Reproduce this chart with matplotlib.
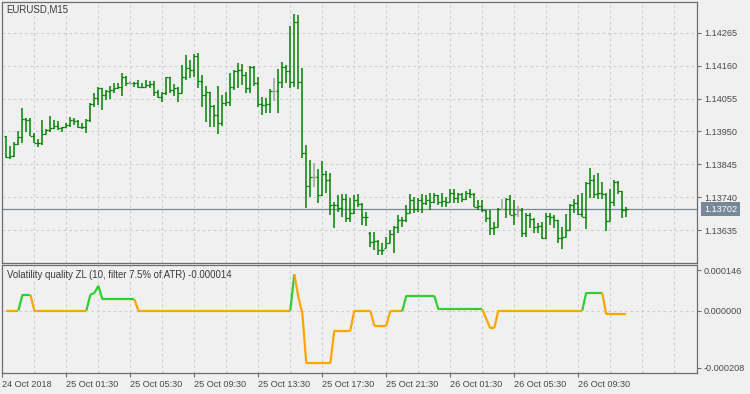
import numpy as np
import matplotlib.pyplot as plt
from matplotlib.collections import LineCollection
from matplotlib.transforms import blended_transform_factory

plt.rcParams['font.family'] = ['Liberation Sans', 'DejaVu Sans']

symbol = "EURUSD,M15"
indicator_name = "Volatility quality ZL (10, filter 7.5% of ATR) -0.000014"

# EURUSD M15 bars
opens = [1.13935, 1.13869, 1.13872, 1.13909, 1.13933, 1.13990, 1.13988, 1.13936, 1.13912, 1.13913,
         1.13942, 1.13955, 1.13960, 1.13967, 1.13961, 1.13964, 1.13970, 1.13986, 1.13983, 1.13965,
         1.13963, 1.13986, 1.14037, 1.14056, 1.14088, 1.14066, 1.14080, 1.14082, 1.14088, 1.14091,
         1.14125, 1.14105, 1.14105, 1.14104, 1.14091, 1.14093, 1.14098, 1.14101, 1.14077, 1.14059,
         1.14074, 1.14123, 1.14082, 1.14088, 1.14072, 1.14125, 1.14151, 1.14146, 1.14191, 1.14112,
         1.14066, 1.14076, 1.14031, 1.14002, 1.13978, 1.14042, 1.14045, 1.14093, 1.14144, 1.14146,
         1.14130, 1.14088, 1.14155, 1.14105, 1.14037, 1.14034, 1.14037, 1.14080, 1.14080, 1.14108,
         1.14156, 1.14144, 1.14109, 1.14298, 1.14109, 1.13882, 1.13776, 1.13805, 1.13805, 1.13747,
         1.13814, 1.13795, 1.13715, 1.13714, 1.13706, 1.13734, 1.13674, 1.13689, 1.13731, 1.13718,
         1.13676, 1.13626, 1.13598, 1.13601, 1.13572, 1.13578, 1.13593, 1.13623, 1.13646, 1.13667,
         1.13666, 1.13689, 1.13731, 1.13701, 1.13731, 1.13722, 1.13731, 1.13726, 1.13747, 1.13726,
         1.13729, 1.13726, 1.13754, 1.13737, 1.13750, 1.13733, 1.13752, 1.13750, 1.13710, 1.13712,
         1.13699, 1.13673, 1.13641, 1.13646, 1.13702, 1.13702, 1.13733, 1.13683, 1.13699, 1.13699,
         1.13627, 1.13683, 1.13670, 1.13646, 1.13648, 1.13609, 1.13680, 1.13678, 1.13667, 1.13609,
         1.13614, 1.13635, 1.13715, 1.13720, 1.13686, 1.13678, 1.13786, 1.13795, 1.13750, 1.13752,
         1.13750, 1.13665, 1.13726, 1.13790, 1.13761, 1.13699]
highs = [1.13935, 1.13903, 1.13917, 1.13951, 1.14024, 1.13992, 1.13992, 1.13944, 1.13925, 1.13986,
         1.13957, 1.13999, 1.13986, 1.13983, 1.13965, 1.13978, 1.13997, 1.13992, 1.13985, 1.13976,
         1.13989, 1.14042, 1.14074, 1.14091, 1.14090, 1.14082, 1.14095, 1.14105, 1.14105, 1.14135,
         1.14127, 1.14111, 1.14109, 1.14114, 1.14105, 1.14114, 1.14112, 1.14112, 1.14082, 1.14077,
         1.14125, 1.14123, 1.14101, 1.14091, 1.14162, 1.14194, 1.14178, 1.14197, 1.14201, 1.14130,
         1.14095, 1.14077, 1.14034, 1.14095, 1.14066, 1.14076, 1.14135, 1.14146, 1.14167, 1.14165,
         1.14141, 1.14159, 1.14159, 1.14123, 1.14059, 1.14056, 1.14084, 1.14120, 1.14148, 1.14172,
         1.14162, 1.14286, 1.14325, 1.14322, 1.14151, 1.13907, 1.13859, 1.13848, 1.13829, 1.13857,
         1.13825, 1.13816, 1.13726, 1.13747, 1.13750, 1.13750, 1.13737, 1.13747, 1.13750, 1.13721,
         1.13694, 1.13630, 1.13630, 1.13603, 1.13593, 1.13612, 1.13635, 1.13649, 1.13683, 1.13678,
         1.13715, 1.13750, 1.13740, 1.13737, 1.13750, 1.13747, 1.13752, 1.13752, 1.13747, 1.13752,
         1.13742, 1.13765, 1.13765, 1.13754, 1.13752, 1.13761, 1.13765, 1.13752, 1.13731, 1.13731,
         1.13699, 1.13699, 1.13662, 1.13705, 1.13733, 1.13737, 1.13747, 1.13731, 1.13712, 1.13705,
         1.13689, 1.13691, 1.13673, 1.13659, 1.13662, 1.13689, 1.13691, 1.13683, 1.13667, 1.13646,
         1.13686, 1.13718, 1.13733, 1.13747, 1.13754, 1.13790, 1.13832, 1.13811, 1.13818, 1.13790,
         1.13752, 1.13765, 1.13795, 1.13793, 1.13761, 1.13708]
lows = [1.13865, 1.13862, 1.13869, 1.13907, 1.13914, 1.13949, 1.13936, 1.13912, 1.13899, 1.13907,
        1.13942, 1.13949, 1.13958, 1.13955, 1.13949, 1.13962, 1.13965, 1.13970, 1.13960, 1.13958,
        1.13946, 1.13980, 1.14029, 1.14034, 1.14018, 1.14050, 1.14052, 1.14074, 1.14084, 1.14063,
        1.14095, 1.14100, 1.14091, 1.14088, 1.14088, 1.14091, 1.14088, 1.14063, 1.14056, 1.14045,
        1.14066, 1.14074, 1.14063, 1.14045, 1.14072, 1.14114, 1.14120, 1.14125, 1.14089, 1.14029,
        1.13981, 1.13965, 1.13965, 1.13942, 1.13967, 1.14030, 1.14030, 1.14082, 1.14088, 1.14098,
        1.14072, 1.14072, 1.14095, 1.14029, 1.14002, 1.14008, 1.14010, 1.14048, 1.14010, 1.14088,
        1.14104, 1.14088, 1.14091, 1.14084, 1.13864, 1.13705, 1.13742, 1.13774, 1.13722, 1.13745,
        1.13754, 1.13683, 1.13641, 1.13694, 1.13678, 1.13662, 1.13662, 1.13686, 1.13708, 1.13651,
        1.13648, 1.13580, 1.13572, 1.13556, 1.13556, 1.13577, 1.13593, 1.13561, 1.13625, 1.13646,
        1.13662, 1.13689, 1.13689, 1.13694, 1.13689, 1.13715, 1.13699, 1.13721, 1.13715, 1.13710,
        1.13710, 1.13724, 1.13721, 1.13721, 1.13726, 1.13731, 1.13737, 1.13710, 1.13699, 1.13694,
        1.13662, 1.13619, 1.13619, 1.13646, 1.13699, 1.13673, 1.13683, 1.13651, 1.13678, 1.13612,
        1.13612, 1.13641, 1.13625, 1.13625, 1.13606, 1.13606, 1.13651, 1.13641, 1.13593, 1.13574,
        1.13613, 1.13635, 1.13689, 1.13683, 1.13676, 1.13638, 1.13737, 1.13737, 1.13733, 1.13733,
        1.13633, 1.13665, 1.13712, 1.13750, 1.13673, 1.13676]
closes = [1.13869, 1.13872, 1.13909, 1.13933, 1.13990, 1.13988, 1.13936, 1.13912, 1.13913, 1.13942,
          1.13955, 1.13960, 1.13967, 1.13961, 1.13964, 1.13970, 1.13986, 1.13983, 1.13965, 1.13963,
          1.13986, 1.14037, 1.14056, 1.14088, 1.14066, 1.14080, 1.14082, 1.14088, 1.14091, 1.14125,
          1.14105, 1.14105, 1.14104, 1.14091, 1.14093, 1.14098, 1.14101, 1.14077, 1.14059, 1.14074,
          1.14123, 1.14082, 1.14088, 1.14072, 1.14125, 1.14151, 1.14146, 1.14191, 1.14112, 1.14066,
          1.14076, 1.14031, 1.14002, 1.13978, 1.14042, 1.14045, 1.14093, 1.14144, 1.14146, 1.14130,
          1.14088, 1.14155, 1.14105, 1.14037, 1.14034, 1.14037, 1.14080, 1.14080, 1.14108, 1.14156,
          1.14144, 1.14109, 1.14298, 1.14109, 1.13882, 1.13776, 1.13805, 1.13805, 1.13747, 1.13814,
          1.13795, 1.13715, 1.13714, 1.13706, 1.13734, 1.13674, 1.13689, 1.13731, 1.13718, 1.13676,
          1.13677, 1.13598, 1.13601, 1.13572, 1.13570, 1.13593, 1.13623, 1.13646, 1.13667, 1.13666,
          1.13689, 1.13731, 1.13701, 1.13731, 1.13722, 1.13731, 1.13726, 1.13747, 1.13726, 1.13729,
          1.13726, 1.13754, 1.13737, 1.13750, 1.13733, 1.13752, 1.13750, 1.13710, 1.13712, 1.13699,
          1.13673, 1.13641, 1.13646, 1.13702, 1.13702, 1.13733, 1.13683, 1.13686, 1.13699, 1.13627,
          1.13683, 1.13670, 1.13646, 1.13648, 1.13609, 1.13680, 1.13678, 1.13667, 1.13609, 1.13614,
          1.13635, 1.13715, 1.13720, 1.13686, 1.13678, 1.13786, 1.13795, 1.13750, 1.13752, 1.13750,
          1.13665, 1.13726, 1.13790, 1.13761, 1.13699, 1.13702]

# indicator values and its colour state (1 = up/green, 0 = down/orange)
vq = [0.0, 0.0, 0.0, 0.0, 0.000057, 0.000057, 0.000057, 0.0, 0.0, 0.0,
      0.0, 0.0, 0.0, 0.0, 0.0, 0.0, 0.0, 0.0, 0.0, 0.0,
      0.0, 0.000058, 0.000063, 0.000090, 0.000041, 0.000041, 0.000041, 0.000041, 0.000041, 0.000041,
      0.000041, 0.000041, 0.000041, 0.0, 0.0, 0.0, 0.0, 0.0, 0.0, 0.0,
      0.0, 0.0, 0.0, 0.0, 0.0, 0.0, 0.0, 0.0, 0.0, 0.0,
      0.0, 0.0, 0.0, 0.0, 0.0, 0.0, 0.0, 0.0, 0.0, 0.0,
      0.0, 0.0, 0.0, 0.0, 0.0, 0.0, 0.0, 0.0, 0.0, 0.0,
      0.0, 0.0, 0.000132, 0.000050, -0.000010, -0.000192, -0.000192, -0.000192, -0.000192, -0.000192,
      -0.000192, -0.000192, -0.000073, -0.000073, -0.000073, -0.000073, -0.000073, 0.0, 0.0, 0.0,
      0.0, 0.0, -0.000055, -0.000055, -0.000055, -0.000055, -0.000002, -0.000002, -0.000002, -0.000002,
      0.000054, 0.000054, 0.000054, 0.000054, 0.000054, 0.000054, 0.000054, 0.000054, 0.000005, 0.000005,
      0.000005, 0.000005, 0.000005, 0.000005, 0.000005, 0.000005, 0.000005, 0.000005, 0.000005, 0.000005,
      -0.000030, -0.000065, -0.000065, 0.0, 0.0, 0.0, 0.0, 0.0, 0.0, 0.0,
      0.0, 0.0, 0.0, 0.0, 0.0, 0.0, 0.0, 0.0, 0.0, 0.0,
      0.0, 0.0, 0.0, 0.0, 0.0, 0.000065, 0.000065, 0.000065, 0.000065, 0.000065,
      -0.000014, -0.000014, -0.000014, -0.000014, -0.000014, -0.000014]
vq_up = [0, 0, 0, 0, 1, 1, 1, 0, 0, 0, 0, 0, 0, 0, 0, 0, 0, 0, 0, 0,
         0, 1, 1, 1, 1, 1, 1, 1, 1, 1, 1, 1, 1, 0, 0, 0, 0, 0, 0, 0,
         0, 0, 0, 0, 0, 0, 0, 0, 0, 0, 0, 0, 0, 0, 0, 0, 0, 0, 0, 0,
         0, 0, 0, 0, 0, 0, 0, 0, 0, 0, 0, 0, 1, 0, 0, 0, 0, 0, 0, 0,
         0, 0, 0, 0, 0, 0, 0, 0, 0, 0, 0, 0, 0, 0, 0, 0, 0, 0, 0, 0,
         1, 1, 1, 1, 1, 1, 1, 1, 1, 1, 1, 1, 1, 1, 1, 1, 1, 1, 1, 1,
         0, 0, 0, 0, 0, 0, 0, 0, 0, 0, 0, 0, 0, 0, 0, 0, 0, 0, 0, 0,
         0, 0, 0, 0, 0, 1, 1, 1, 1, 1, 0, 0, 0, 0, 0, 0]

time_ticks = [-1, 15, 31, 47, 63, 79, 95, 111, 127, 143]
time_labels = ["24 Oct 2018", "25 Oct 01:30", "25 Oct 05:30", "25 Oct 09:30", "25 Oct 13:30",
               "25 Oct 17:30", "25 Oct 21:30", "26 Oct 01:30", "26 Oct 05:30", "26 Oct 09:30"]
price_ticks = [1.14265, 1.14160, 1.14055, 1.13950, 1.13845, 1.13740, 1.13635]
vq_ticks = [0.000146, 0.0, -0.000208]
vq_tick_labels = ["0.000146", "0.000000", "-0.000208"]
last_price = 1.13702

bg = '#f0f0f0'
frame = '#6e6e6e'
grid_c = '#d0d0d0'
txt = '#4a4a4a'
fs = 6.6

fig = plt.figure(figsize=(7.5, 3.94), dpi=100, facecolor=bg)
W, H = 750.0, 394.0
ax = fig.add_axes([2 / W, 1 - 263.3 / H, 695 / W, 261.3 / H])
ax2 = fig.add_axes([2 / W, 1 - 372.7 / H, 695 / W, 107.4 / H])

xlim = (-1.1, 172.7)
for a in (ax, ax2):
    a.set_facecolor(bg)
    a.set_xlim(*xlim)
    for s in a.spines.values():
        s.set_color(frame)
        s.set_linewidth(0.9)
    for g in range(7, 172, 8):
        a.axvline(g, color=grid_c, lw=0.8, ls=(0, (2.5, 2.5)), zorder=0)

# price panel
ax.set_ylim(1.135291, 1.143630)
for p in price_ticks:
    ax.axhline(p, color=grid_c, lw=0.8, ls=(0, (2.5, 2.5)), zorder=0)

x = np.arange(len(closes))
bar_cols = ['#a0a0a0' if o == c else '#008000' for o, c in zip(opens, closes)]
ax.vlines(x, lows, highs, colors=bar_cols, lw=1.1, zorder=3)
ax.hlines(opens, x - 0.5, x, colors=bar_cols, lw=0.9, zorder=3)
ax.hlines(closes, x, x + 0.5, colors=bar_cols, lw=0.9, zorder=3)
ax.axhline(last_price, color='#7b8794', lw=0.9, zorder=2)

ax.yaxis.tick_right()
ax.set_yticks(price_ticks)
ax.set_yticklabels(['%.5f' % p for p in price_ticks])
ax.tick_params(axis='y', direction='out', length=3, width=0.8, color=frame,
               labelsize=fs, labelcolor=txt, pad=2)
ax.set_xticks([])

tr = blended_transform_factory(ax.transAxes, ax.transData)
ax.text(1.0101, last_price, '%.5f' % last_price, transform=tr, ha='left', va='center',
        fontsize=fs, color='white', clip_on=False,
        bbox=dict(boxstyle='square,pad=0.3', fc='#778899', ec='none'))
ax.text(0.0068, 0.972, symbol, transform=ax.transAxes, ha='left', va='center',
        fontsize=fs + 0.3, color='#3a3a3a')

# indicator panel
ax2.set_ylim(-0.000226, 0.0001643)
ax2.axhline(0, color=grid_c, lw=0.8, ls=(0, (2.5, 2.5)), zorder=0)
pts = np.column_stack([x, vq])
segs = np.stack([pts[:-1], pts[1:]], axis=1)
seg_cols = ['#32cd32' if u else '#ffa500' for u in vq_up[1:]]
lc = LineCollection(segs, colors=seg_cols, linewidths=1.6, capstyle='butt', zorder=3)
ax2.add_collection(lc)

ax2.yaxis.tick_right()
ax2.set_yticks(vq_ticks)
ax2.set_yticklabels(vq_tick_labels)
ax2.tick_params(axis='y', direction='out', length=3, width=0.8, color=frame,
                labelsize=fs, labelcolor=txt, pad=2)
ax2.set_xticks(time_ticks)
ax2.set_xticklabels(time_labels, ha='left')
ax2.tick_params(axis='x', direction='out', length=3, width=0.8, color=frame,
                labelsize=fs, labelcolor=txt, pad=2)
ax2.text(0.0068, 0.91, indicator_name, transform=ax2.transAxes, ha='left', va='center',
         fontsize=6.9, color='#3a3a3a')

fig.savefig('out.png', dpi=100, facecolor=bg)
